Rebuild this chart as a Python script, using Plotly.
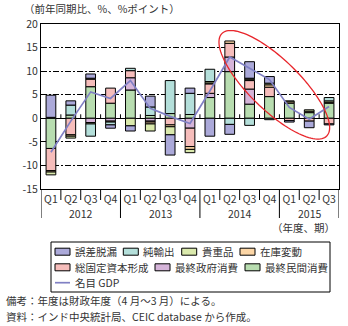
import numpy as np
import plotly.graph_objects as go

# Quarter / fiscal-year categories
quarters = ["Q1", "Q2", "Q3", "Q4", "Q1", "Q2", "Q3", "Q4",
            "Q1", "Q2", "Q3", "Q4", "Q1", "Q2", "Q3"]
fiscal_years = ["2012", "2013", "2014", "2015"]
year_of_quarter = ["2012"] * 4 + ["2013"] * 4 + ["2014"] * 4 + ["2015"] * 3

# Contributions to nominal GDP growth (y/y, percentage points)
private_consumption = [-6.4, 0.7, 6.7, 3.2, 6.0, 0.6, 1.0, 0.8, 4.4, 9.9, 3.0, 4.6, 3.2, 1.2, 3.2]
government_consumption = [0, 0, -0.9, -0.6, 2.6, -0.6, 0, -2.1, 0.9, 3.1, 3.2, 0, 0, 0, 0]
fixed_capital = [-4.7, -3.5, 1.6, 3.2, 1.5, -0.2, -1.4, -3.9, 2.0, 2.9, 1.8, 2.0, -0.5, -0.6, -1.2]
inventories = [-0.3, -0.3, 0.2, -0.2, 0, -0.4, -0.4, -0.6, 0.2, 0.5, 0.3, 0.5, 0.3, 0.3, 0.2]
valuables = [-0.6, -0.4, -0.3, 0, -1.6, -1.5, -1.7, -0.7, 0.3, 0, 0.2, 0.35, 0.2, 0.3, 0.3]
net_exports = [0.2, 2.1, -2.6, -0.6, 0.5, 1.8, 7.0, 4.5, 2.6, -1.3, -1.5, -0.3, 0, 0, 0.7]
discrepancies = [4.7, 0.9, 0.9, -0.7, -1.1, 2.3, -4.3, 1.1, -3.8, -2.1, 3.5, 1.4, -0.3, -1.4, -0.2]
nominal_gdp = [-7.2, -0.6, 5.6, 4.2, 8.0, 2.1, 0.4, -1.1, 5.8, 13.0, 10.6, 8.2, 2.3, -0.2, 2.5]

y_tick_values = [-15, -10, -5, 0, 5, 10, 15, 20]
y_tick_labels = ["-15", "-10", "-5", "0", "5", "10", "15", "20"]

FONT = "Noto Sans CJK JP"
TEXT = "#333333"
GDP_COLOR = "#8080C4"
RED = "#E8262C"

# stacking order: first trace sits next to the zero line
series = [
    ("最終民間消費", private_consumption, "#B8DDB0"),
    ("最終政府消費", government_consumption, "#D5B4D9"),
    ("総固定資本形成", fixed_capital, "#F6BDBB"),
    ("在庫変動", inventories, "#FCD6A6"),
    ("貴重品", valuables, "#DAE9AC"),
    ("純輸出", net_exports, "#B4DFDA"),
    ("誤差脱漏", discrepancies, "#ABA9D9"),
]
colors = {name: c for name, _, c in series}

x_idx = list(range(len(quarters)))

fig = go.Figure()
for name, vals, color in series:
    fig.add_trace(go.Bar(
        x=x_idx, y=[v if v != 0 else None for v in vals], name=name,
        marker=dict(color=color, line=dict(color="black", width=1)),
        showlegend=False,
    ))
fig.add_trace(go.Scatter(
    x=x_idx, y=nominal_gdp, name="名目 GDP", mode="lines",
    line=dict(color=GDP_COLOR, width=1.7), showlegend=False,
))

# plot area in pixels
W, H = 348, 326
L, R, T, B = 41, 339, 24, 189


def px_x(px):
    return (px - L) / (R - L)


def px_y(py):
    return (B - py) / (B - T)


fig.update_layout(
    barmode="relative", bargap=0.51,
    width=W, height=H,
    margin=dict(l=L, r=W - R, t=T, b=H - B, autoexpand=False),
    plot_bgcolor="white", paper_bgcolor="white",
    font=dict(family=FONT, size=10.5, color=TEXT),
    showlegend=False,
)
fig.update_xaxes(
    range=[-0.5, len(quarters) - 0.5], tickvals=x_idx, ticktext=quarters,
    ticks="", showline=True, linecolor="black", linewidth=1, mirror=True,
    showgrid=False, zeroline=False, tickfont=dict(size=10.5, color=TEXT),
)
fig.update_yaxes(
    range=[-15, 20], tickvals=y_tick_values, ticktext=y_tick_labels,
    ticks="", showline=True, linecolor="black", linewidth=1, mirror=True,
    showgrid=True, gridcolor="black", gridwidth=1, griddash="6px,2px,2px,2px",
    zeroline=True, zerolinecolor="black", zerolinewidth=1,
    tickfont=dict(size=10.5, color=TEXT),
)

shapes = []
annotations = []

# category separators below the axis (long ones between fiscal years)
year_starts = [i for i in x_idx if i == 0 or year_of_quarter[i] != year_of_quarter[i - 1]]
for k in range(len(quarters) + 1):
    long = k in year_starts or k == len(quarters)
    shapes.append(dict(type="line", xref="x", yref="paper",
                       x0=k - 0.5, x1=k - 0.5, y0=0, y1=px_y(218 if long else 200),
                       line=dict(color="black", width=1)))
    if 0 < k < len(quarters):
        # small tick marks on the zero line
        shapes.append(dict(type="line", xref="x", yref="y",
                           x0=k - 0.5, x1=k - 0.5, y0=0, y1=0.85,
                           line=dict(color="black", width=1)))

for fy in fiscal_years:
    idx = [i for i in x_idx if year_of_quarter[i] == fy]
    annotations.append(dict(text=fy, xref="x", yref="paper", x=float(np.mean(idx)),
                            y=px_y(213), showarrow=False, xanchor="center",
                            yanchor="middle", font=dict(size=10.5, color=TEXT)))

# red ellipse highlighting 2014-2015
cx, cy, a, b, th = 274.3, 84.8, 73.3, 25.2, np.radians(44.3)
t = np.linspace(0, 2 * np.pi, 121)
ex = cx + a * np.cos(t) * np.cos(th) - b * np.sin(t) * np.sin(th)
ey = cy + a * np.cos(t) * np.sin(th) + b * np.sin(t) * np.cos(th)
path = "M " + " L ".join(f"{px_x(u):.4f},{px_y(v):.4f}" for u, v in zip(ex, ey)) + " Z"
shapes.append(dict(type="path", xref="paper", yref="paper", path=path,
                   line=dict(color=RED, width=1.3)))

# legend box
shapes.append(dict(type="rect", xref="paper", yref="paper",
                   x0=px_x(51), x1=px_x(330), y0=px_y(292), y1=px_y(242),
                   line=dict(color="black", width=1), fillcolor="white"))
legend_rows = [
    [("誤差脱漏", 55), ("純輸出", 123.3), ("貴重品", 181.7), ("在庫変動", 240)],
    [("総固定資本形成", 55), ("最終政府消費", 155), ("最終民間消費", 245)],
]
row_y = [251.7, 267.3, 282.7]
for r, row in enumerate(legend_rows):
    for name, sx in row:
        shapes.append(dict(type="rect", xref="paper", yref="paper",
                           x0=px_x(sx), x1=px_x(sx + 15),
                           y0=px_y(row_y[r] + 3.5), y1=px_y(row_y[r] - 3.5),
                           fillcolor=colors[name], line=dict(color="black", width=1)))
        annotations.append(dict(text=name, xref="paper", yref="paper",
                                x=px_x(sx + 18), y=px_y(row_y[r]), showarrow=False,
                                xanchor="left", yanchor="middle",
                                font=dict(size=10.5, color=TEXT)))
shapes.append(dict(type="line", xref="paper", yref="paper",
                   x0=px_x(55), x1=px_x(70), y0=px_y(row_y[2]), y1=px_y(row_y[2]),
                   line=dict(color=GDP_COLOR, width=1.7)))
annotations.append(dict(text="名目 GDP", xref="paper", yref="paper",
                        x=px_x(73), y=px_y(row_y[2]), showarrow=False,
                        xanchor="left", yanchor="middle", font=dict(size=10.5, color=TEXT)))

# texts around the chart
annotations += [
    dict(text="（前年同期比、%、%ポイント）", xref="paper", yref="paper",
         x=px_x(22), y=px_y(8), showarrow=False, xanchor="left", yanchor="middle",
         font=dict(size=10.5, color=TEXT)),
    dict(text="（年度、期）", xref="paper", yref="paper",
         x=px_x(337), y=px_y(227.5), showarrow=False, xanchor="right", yanchor="middle",
         font=dict(size=10.5, color=TEXT)),
    dict(text="備考：年度は財政年度（4 月～3 月）による。", xref="paper", yref="paper",
         x=px_x(4), y=px_y(300.5), showarrow=False, xanchor="left", yanchor="middle",
         font=dict(size=10.5, color=TEXT)),
    dict(text="資料：インド中央統計局、CEIC database から作成。", xref="paper", yref="paper",
         x=px_x(4), y=px_y(316), showarrow=False, xanchor="left", yanchor="middle",
         font=dict(size=10.5, color=TEXT)),
]

fig.update_layout(shapes=shapes, annotations=annotations)
fig.write_html("out.html")
